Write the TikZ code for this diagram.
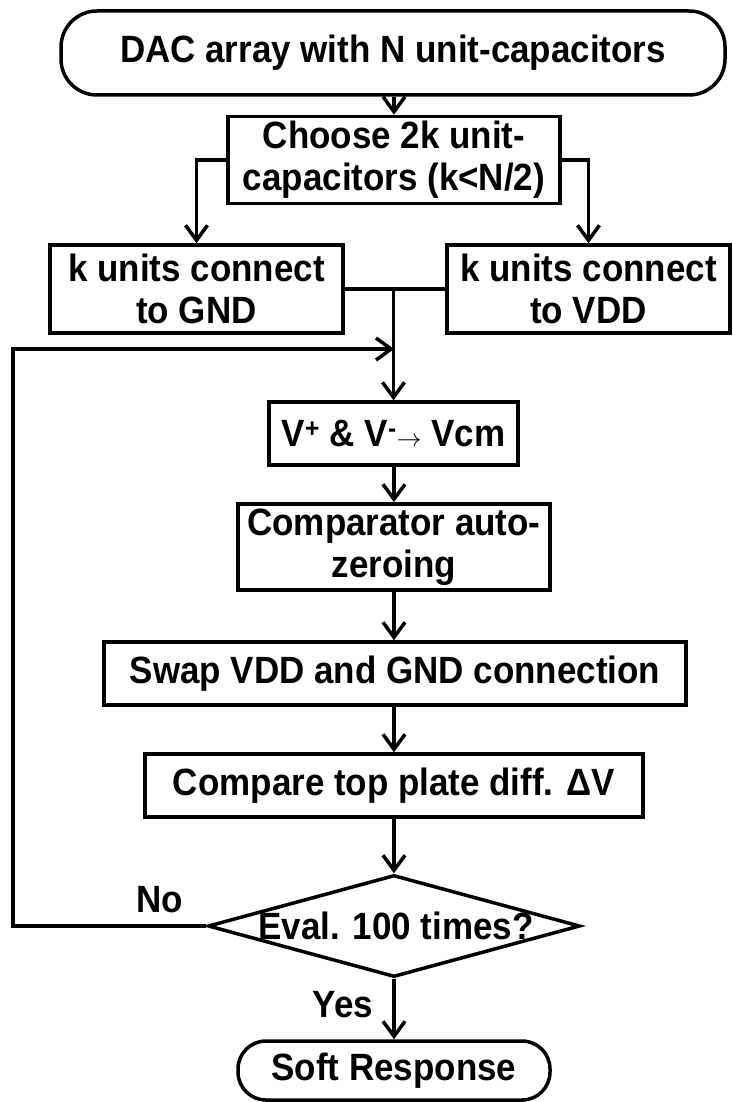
\documentclass[tikz,border=0pt]{standalone}
\usepackage{fontspec}
\setmainfont[FakeStretch=0.92]{Liberation Sans}
\usetikzlibrary{arrows.meta,shapes.geometric}
\begin{document}
\begin{tikzpicture}[x=1pt,y=-1pt,
  every node/.style={font=\fontsize{38}{42}\selectfont\bfseries, inner sep=0pt, align=center},
  stepbox/.style={draw, line width=3.5pt, rectangle},
  term/.style={draw, line width=3.5pt, rectangle, rounded corners=36pt},
  decision/.style={draw, line width=3.5pt, diamond},
  arr/.style={line width=3.5pt, -{Straight Barb[length=15pt,width=22pt]}},
  conn/.style={line width=3.5pt}]
\useasboundingbox (0,0) rectangle (732,1102);
\node[term, minimum width=664pt, minimum height=84pt] (top) at (393,53) {DAC array with N unit-capacitors};
\node[stepbox, minimum width=332pt, minimum height=87pt] (choose) at (394,160) {Choose 2k unit-\\capacitors (k\textless N/2)};
\node[stepbox, minimum width=293pt, minimum height=88pt] (gnd) at (196.5,289) {k units connect\\to GND};
\node[stepbox, minimum width=283pt, minimum height=88pt] (vdd) at (588.5,289) {k units connect\\to VDD};
\node[stepbox, minimum width=249pt, minimum height=63pt] (vcm) at (393.5,433.5) {V\textsuperscript{+} \& V\textsuperscript{-}$\rightarrow$ Vcm};
\node[stepbox, minimum width=312pt, minimum height=86pt] (cmp) at (394,547) {Comparator auto-\\zeroing};
\node[stepbox, minimum width=582pt, minimum height=63pt] (swap) at (395,673.5) {Swap VDD and GND connection};
\node[stepbox, minimum width=498pt, minimum height=63pt] (cmpr) at (394,785.5) {Compare top plate diff. \char"0394V};
\node[decision, minimum width=372pt, minimum height=102pt] (dec) at (394,926) {};
\node (dect) at (396,926) {Eval. 100 times?};
\node[term, minimum width=312pt, minimum height=59pt, rounded corners=28pt] (soft) at (394,1070.5) {Soft Response};
\node (no) at (160,900) {No};
\node (yes) at (343,1005) {Yes};
\coordinate (m) at (gnd.east -| vcm.north);
\coordinate (fb) at (394,349);
\coordinate (fbl) at (13,349);
\draw[arr] (top.south -| choose.north) -- (choose.north);
\draw[arr] (choose.west) -| (gnd.north);
\draw[arr] (choose.east) -| (vdd.north);
\draw[conn] (gnd.east) -- (vdd.west);
\draw[arr] (m) -- (vcm.north);
\draw[arr] (dec.west) -| (fbl) -- (fb);
\draw[arr] (vcm.south -| cmp.north) -- (cmp.north);
\draw[arr] (cmp.south) -- (cmp.south |- swap.north);
\draw[arr] (swap.south -| cmpr.north) -- (cmpr.north);
\draw[arr] (cmpr.south) -- (dec.north);
\draw[arr] (dec.south) -- (soft.north);
\end{tikzpicture}
\end{document}
